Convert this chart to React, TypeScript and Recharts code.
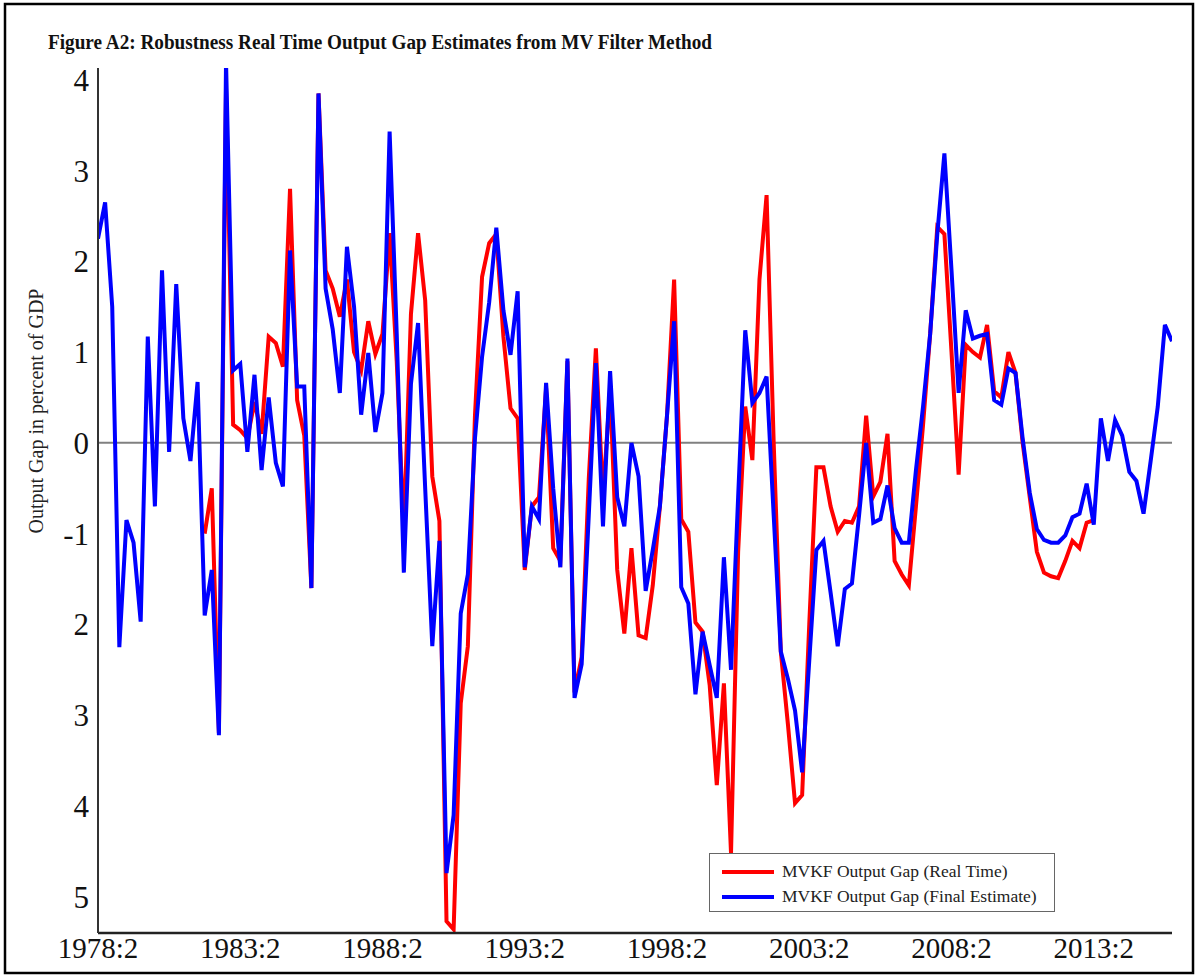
import React from 'react';
import { LineChart, Line, XAxis, YAxis, ReferenceLine, Legend } from 'recharts';

// Quarterly output gap, 1978:2 onwards (percent of GDP)
const FINAL_ESTIMATE = [
  2.25, 2.65, 1.5, -2.25, -0.85, -1.1, -1.97, 1.17, -0.7, 1.9,
  -0.1, 1.75, 0.27, -0.2, 0.67, -1.9, -1.4, -3.22, 4.2, 0.8,
  0.87, -0.1, 0.75, -0.3, 0.5, -0.22, -0.48, 2.12, 0.62, 0.62,
  -1.6, 3.85, 1.7, 1.25, 0.55, 2.16, 1.5, 0.31, 0.99, 0.12,
  0.55, 3.43, 1.2, -1.43, 0.65, 1.32, -0.5, -2.24, -1.08, -4.74,
  -4.1, -1.88, -1.45, 0.05, 0.95, 1.55, 2.37, 1.46, 0.97, 1.67,
  -1.37, -0.7, -0.84, 0.66, -0.5, -1.37, 0.93, -2.81, -2.44, -0.8,
  0.88, -0.92, 0.79, -0.6, -0.92, 0.0, -0.37, -1.63, -1.18, -0.7,
  0.3, 1.34, -1.59, -1.77, -2.77, -2.08, -2.45, -2.81, -1.26, -2.5,
  -0.6, 1.24, 0.44, 0.55, 0.73, -0.8, -2.3, -2.6, -2.95, -3.63,
  -2.4, -1.18, -1.08, -1.65, -2.24, -1.61, -1.55, -0.8, 0.0, -0.88,
  -0.84, -0.47, -0.94, -1.1, -1.1, -0.3, 0.4, 1.2, 2.3, 3.19,
  1.9, 0.55, 1.46, 1.15, 1.18, 1.2, 0.47, 0.42, 0.82, 0.77,
  0.05, -0.55, -0.95, -1.07, -1.1, -1.1, -1.02, -0.82, -0.78, -0.45,
  -0.9, 0.27, -0.2, 0.25, 0.08, -0.32, -0.42, -0.78, -0.2, 0.4,
  1.3, 1.12,
];

// real-time vintage starts at quarter index 15 and stops at 140
const REAL_TIME_FIRST = 15;
const REAL_TIME = [
  -1.0, -0.5, -3.2, 3.9, 0.2,
  0.14, 0.05, 0.45, 0.1, 1.17, 1.1, 0.84, 2.8, 0.47, 0.08,
  -1.6, 3.85, 1.9, 1.7, 1.39, 1.8, 1.0, 0.8, 1.34, 0.98,
  1.2, 2.31, 0.9, -1.0, 1.42, 2.31, 1.57, -0.37, -0.86, -5.27,
  -5.36, -2.87, -2.24, 0.3, 1.83, 2.2, 2.3, 1.17, 0.38, 0.27,
  -1.4, -0.7, -0.6, 0.6, -1.16, -1.3, 0.9, -2.75, -2.36, -0.4,
  1.04, -0.6, 0.6, -1.4, -2.1, -1.16, -2.12, -2.15, -1.57, -0.7,
  0.3, 1.8, -0.84, -0.98, -1.98, -2.08, -2.67, -3.77, -2.65, -4.52,
  -1.2, 0.4, -0.19, 1.8, 2.73, 0.0, -2.3, -3.1, -3.97, -3.88,
  -2.0, -0.27, -0.27, -0.7, -0.98, -0.86, -0.88, -0.7, 0.3, -0.59,
  -0.43, 0.1, -1.3, -1.45, -1.57, -0.7, 0.2, 1.2, 2.38, 2.3,
  1.0, -0.35, 1.08, 1.0, 0.94, 1.3, 0.57, 0.5, 1.0, 0.77,
  0.0, -0.6, -1.2, -1.43, -1.47, -1.49, -1.3, -1.08, -1.16, -0.88,
  -0.85,
];

const X_TICKS = [0, 20, 40, 60, 80, 100, 120, 140];
const X_TICK_LABELS = ['1978:2', '1983:2', '1988:2', '1993:2', '1998:2', '2003:2', '2008:2', '2013:2'];
const Y_TICKS = [-5, -4, -3, -2, -1, 0, 1, 2, 3, 4];
const Y_TICK_LABELS = ['5', '4', '3', '2', '-1', '0', '1', '2', '3', '4'];

const SERIES = [
  { key: 'realTime', name: 'MVKF Output Gap (Real Time)', color: '#ff0000' },
  { key: 'final', name: 'MVKF Output Gap (Final Estimate)', color: '#0000ff' },
];

const SERIF = '"Liberation Serif", "Times New Roman", serif';
const X_DOMAIN: [number, number] = [0, FINAL_ESTIMATE.length - 1];
const Y_DOMAIN: [number, number] = [-5.4, 4.13];

const data = FINAL_ESTIMATE.map((v, i) => {
  const r = i - REAL_TIME_FIRST;
  return {
    idx: i,
    final: v,
    realTime: r >= 0 && r < REAL_TIME.length ? REAL_TIME[r] : null,
  };
});

// boxed legend, entries kept in series order
function LegendBox({ payload }: any) {
  const names = SERIES.map((s) => s.name);
  const items = [...(payload || [])].sort((a: any, b: any) => names.indexOf(a.value) - names.indexOf(b.value));
  return (
    <div
      style={{
        width: 346,
        height: 59,
        boxSizing: 'border-box',
        border: '1.5px solid #666',
        background: '#fff',
        padding: '5px 0 0 12px',
        fontFamily: SERIF,
        fontSize: 17.5,
        color: '#222',
      }}
    >
      {items.map((p: any) => (
        <div key={p.value} style={{ display: 'flex', alignItems: 'center', height: 25 }}>
          <span style={{ display: 'inline-block', width: 52, height: 4, background: p.color, marginRight: 8 }} />
          <span>{p.value}</span>
        </div>
      ))}
    </div>
  );
}

export default function App() {
  return (
    <div style={{ position: 'absolute', left: 0, top: 0, width: 1200, height: 976, background: '#fff' }}>
      <LineChart width={1200} height={976} data={data} margin={{ top: 68, right: 28, bottom: 9, left: 38 }}>
        <XAxis
          dataKey="idx"
          type="number"
          domain={X_DOMAIN}
          ticks={X_TICKS}
          tickFormatter={(v: number) => X_TICK_LABELS[X_TICKS.indexOf(v)] ?? ''}
          tick={{ fontSize: 29, fill: '#111', fontFamily: SERIF }}
          tickLine={false}
          tickSize={0}
          tickMargin={4}
          height={34}
          axisLine={{ stroke: '#222', strokeWidth: 2.5 }}
          allowDataOverflow
        />
        {/* inward tick marks on the bottom and top edges */}
        <XAxis
          xAxisId="bottomTicks"
          dataKey="idx"
          type="number"
          domain={X_DOMAIN}
          ticks={X_TICKS}
          orientation="bottom"
          mirror
          tick={false}
          tickSize={10}
          tickLine={{ stroke: '#777', strokeWidth: 1.5 }}
          axisLine={false}
          height={0}
        />
        <XAxis
          xAxisId="top"
          dataKey="idx"
          type="number"
          domain={X_DOMAIN}
          ticks={X_TICKS}
          orientation="top"
          mirror
          tick={false}
          tickSize={10}
          tickLine={{ stroke: '#777', strokeWidth: 1.5 }}
          axisLine={{ stroke: '#555', strokeWidth: 2 }}
          height={0}
        />
        <YAxis
          type="number"
          domain={Y_DOMAIN}
          ticks={Y_TICKS}
          tickFormatter={(v: number) => Y_TICK_LABELS[Y_TICKS.indexOf(v)] ?? ''}
          tick={{ fontSize: 31, fill: '#111', fontFamily: SERIF }}
          tickLine={false}
          tickSize={0}
          tickMargin={9}
          width={60}
          axisLine={{ stroke: '#333', strokeWidth: 2 }}
          allowDataOverflow
        />
        <YAxis
          yAxisId="leftTicks"
          type="number"
          domain={Y_DOMAIN}
          ticks={Y_TICKS}
          orientation="left"
          mirror
          tick={false}
          tickSize={10}
          tickLine={{ stroke: '#777', strokeWidth: 1.5 }}
          axisLine={false}
          width={0}
          allowDataOverflow
        />
        <YAxis
          yAxisId="right"
          type="number"
          domain={Y_DOMAIN}
          ticks={Y_TICKS}
          orientation="right"
          mirror
          tick={false}
          tickSize={10}
          tickLine={{ stroke: '#777', strokeWidth: 1.5 }}
          axisLine={{ stroke: '#555', strokeWidth: 2.5 }}
          width={0}
          allowDataOverflow
        />
        <ReferenceLine y={0} stroke="#808080" strokeWidth={2} />
        {SERIES.map((s) => (
          <Line
            key={s.key}
            dataKey={s.key}
            name={s.name}
            type="linear"
            stroke={s.color}
            strokeWidth={4}
            dot={false}
            activeDot={false}
            isAnimationActive={false}
          />
        ))}
        <Legend
          layout="vertical"
          align="center"
          verticalAlign="middle"
          content={<LegendBox />}
          wrapperStyle={{ left: 709, top: 853, width: 346 }}
        />
      </LineChart>

      <svg
        width={1200}
        height={976}
        style={{ position: 'absolute', left: 0, top: 0, pointerEvents: 'none' }}
      >
        <rect x={5} y={4} width={1188} height={969} fill="none" stroke="#000" strokeWidth={2.5} />
        <text
          x={48}
          y={49}
          fontFamily={SERIF}
          fontWeight="bold"
          fontSize={20}
          fill="#111"
          textLength={664}
          lengthAdjust="spacingAndGlyphs"
        >
          Figure A2: Robustness Real Time Output Gap Estimates from MV Filter Method
        </text>
        <text
          x={0}
          y={0}
          transform="translate(43 411) rotate(-90)"
          textAnchor="middle"
          fontFamily={SERIF}
          fontSize={20}
          fill="#222"
        >
          Output Gap in percent of GDP
        </text>
      </svg>
    </div>
  );
}
